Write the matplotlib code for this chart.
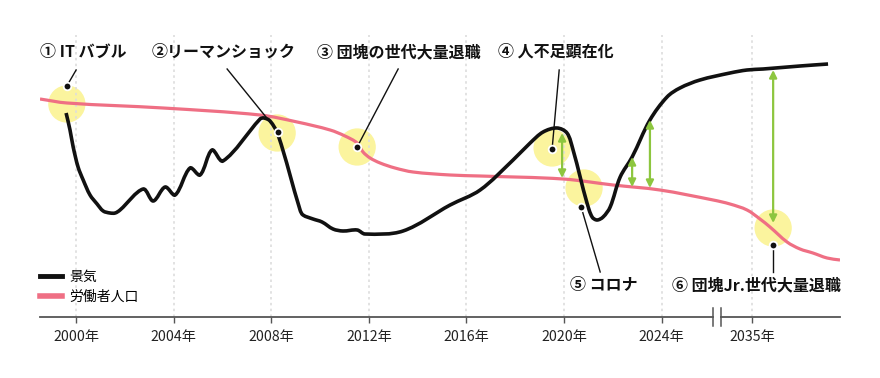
import numpy as np
import matplotlib
matplotlib.use("Agg")
import matplotlib.pyplot as plt
from matplotlib.lines import Line2D
from matplotlib.scale import FuncScale
from matplotlib.path import Path
from matplotlib.patches import PathPatch

plt.rcParams['font.family'] = ['Noto Sans CJK JP', 'DejaVu Sans']

# ---------------- data ----------------
econ_years = [1999.59, 1999.75, 1999.88, 2000.08, 2000.29, 2000.57, 2000.86, 2001.11, 2001.39, 2001.60,
              2001.80, 2002.75, 2003.16, 2003.65, 2004.06, 2004.67, 2005.08, 2005.57, 2006.02, 2007.54,
              2007.70, 2007.95, 2008.28, 2009.18, 2009.30, 2009.71, 2010.08, 2010.53, 2010.94, 2011.52,
              2011.84, 2013.40, 2015.33, 2016.56, 2017.91, 2018.61, 2019.14, 2019.71, 2020.12, 2020.37,
              2020.66, 2020.94, 2021.15, 2021.35, 2021.60, 2021.89, 2022.30, 2022.79, 2023.52, 2024.22,
              2024.75, 2025.57, 2029.41, 2033.76, 2035.46, 2036.97, 2038.12]
econ_values = [204, 187, 170, 150, 137, 122, 113, 106, 104, 104,
               107, 128, 116, 130, 122, 149, 142, 167, 156, 198,
               199, 196, 182, 107, 102, 98, 95, 88, 86, 87,
               83, 86, 112, 127, 157, 174, 185, 189, 184, 167,
               140, 114, 100, 97, 100, 110, 140, 160, 197, 220,
               229, 237, 244, 247, 248, 251, 253]

labor_years = [1998.52, 1999.63, 2003.57, 2007.54, 2009.06, 2010.41, 2011.02, 2011.52, 2011.76, 2012.05,
               2012.46, 2013.07, 2013.81, 2015.33, 2016.56, 2019.96, 2022.01, 2023.93, 2026.11, 2029.41,
               2033.76, 2035.33, 2035.74, 2036.44, 2036.97, 2037.50, 2038.08, 2038.61]
labor_values = [218, 214, 209, 202, 195, 187, 181, 174, 165, 159,
                154, 149, 145, 142, 141, 138, 132, 127, 117, 113,
                107, 98, 90, 75, 68, 64, 59, 57]

series_labels = ['景気', '労働者人口']

# events: highlight circle, dot, leader line, label
event_labels = ['① IT バブル', '②リーマンショック', '③ 団塊の世代大量退職', '④ 人不足顕在化',
                '⑤ コロナ', '⑥ 団塊Jr.世代大量退職']
circle_x = [1999.62, 2008.24, 2011.52, 2019.51, 2020.82, 2035.87]
circle_y = [213, 184, 170, 169, 129, 89]
dot_x = [1999.62, 2008.28, 2011.52, 2019.51, 2020.70, 2035.87]
dot_y = [231, 185, 170, 168, 110, 72]
leader_x = [2000.0, 2006.19, 2013.20, 2019.80, 2021.48, 2035.87]
leader_y = [247, 248, 248, 247, 45, 45]
label_x = [1998.52, 2003.11, 2009.88, 2017.30, 2020.25, 2024.43]
label_y = [265, 265, 265, 265, 32, 32]

# gap arrows
gap_x = [2019.92, 2022.79, 2023.52, 2035.87]
gap_top = [184, 160, 197, 247]
gap_bottom = [139, 130, 129, 94]

tick_years = [2000, 2004, 2008, 2012, 2016, 2020, 2024, 2035]
tick_labels = ['2000年', '2004年', '2008年', '2012年', '2016年', '2020年', '2024年', '2035年']

# ---------------- broken x scale ----------------
B0, Y1, P1 = 2026.3, 2035.0, 2027.7
K = (P1 - B0) / (Y1 - B0)


def fwd(x):
    x = np.asarray(x, dtype=float)
    return np.where(x <= B0, x, np.where(x < Y1, B0 + (x - B0) * K, x - (Y1 - P1)))


def inv(p):
    p = np.asarray(p, dtype=float)
    return np.where(p <= B0, p, np.where(p < P1, B0 + (p - B0) / K, p + (Y1 - P1)))


PX_PER_UNIT = 24.4  # aspect used only to shape the smooth rendering


def smooth_path(xs, ys):
    """Smooth rendering through the given points (cubic Bezier, chord-length tangents)."""
    P = np.column_stack([fwd(xs) * PX_PER_UNIT, np.asarray(ys, float)])
    n = len(P)
    d = np.linalg.norm(np.diff(P, axis=0), axis=1)
    m = np.zeros_like(P)
    m[0] = (P[1] - P[0]) / d[0]
    m[-1] = (P[-1] - P[-2]) / d[-1]
    for i in range(1, n - 1):
        m[i] = (P[i + 1] - P[i - 1]) / (d[i - 1] + d[i])
    verts = [P[0]]
    codes = [Path.MOVETO]
    for i in range(n - 1):
        verts += [P[i] + m[i] * d[i] / 3, P[i + 1] - m[i + 1] * d[i] / 3, P[i + 1]]
        codes += [Path.CURVE4] * 3
    V = np.array(verts)
    V[:, 0] = inv(V[:, 0] / PX_PER_UNIT)
    return Path(V, codes)


BLACK = '#111111'
PINK = '#ef6f84'
YELLOW = '#fbf49e'
GREEN = '#8dc63f'
AXIS = '#555555'

fig = plt.figure(figsize=(8.8, 3.78), dpi=100)
ax = fig.add_axes([40 / 880, 61 / 378, 800 / 880, 282 / 378])
ax.set_xscale(FuncScale(ax, (fwd, inv)))
ax.set_xlim(1998.52, 2038.61)
ax.set_ylim(0, 282)

for s in ax.spines.values():
    s.set_visible(False)
ax.set_yticks([])
ax.set_xticks(tick_years)
ax.set_xticklabels(tick_labels, fontsize=10.2, color='#222222')
ax.tick_params(axis='x', length=4, width=1.0, color=AXIS, pad=5)
ax.grid(axis='x', linestyle=(0, (1.5, 2)), color='#dddddd', linewidth=1.2, zorder=0)

# axis line with break
trans = ax.get_xaxis_transform()
brk_left, brk_right = 2026.11, 2027.11
ax.plot([1998.52, brk_left], [0, 0], transform=trans, color=AXIS, lw=1.3, clip_on=False, zorder=5)
ax.plot([brk_right, 2038.61], [0, 0], transform=trans, color=AXIS, lw=1.3, clip_on=False, zorder=5)
for bx in (brk_left, brk_right):
    ax.plot([bx, bx], [-0.033, 0.032], transform=trans, color=AXIS, lw=1.1, clip_on=False, zorder=5)

# highlight circles
ax.scatter(circle_x, circle_y, s=720, color=YELLOW, edgecolors='none', zorder=1)

# series (smooth rendering through the read points)
ax.add_patch(PathPatch(smooth_path(labor_years, labor_values), fill=False, edgecolor=PINK,
                       lw=2.3, capstyle='butt', joinstyle='round', zorder=3))
ax.add_patch(PathPatch(smooth_path(econ_years, econ_values), fill=False, edgecolor=BLACK,
                       lw=2.6, capstyle='butt', joinstyle='round', zorder=4))

# gap arrows
for gx, gt, gb in zip(gap_x, gap_top, gap_bottom):
    ax.annotate('', xy=(gx, gt), xytext=(gx, gb),
                arrowprops=dict(arrowstyle='<|-|>', color=GREEN, lw=1.6,
                                mutation_scale=11, shrinkA=0, shrinkB=0), zorder=6)

# leader lines, dots, labels
for lx, ly, dx, dy in zip(leader_x, leader_y, dot_x, dot_y):
    ax.plot([lx, dx], [ly, dy], color=BLACK, lw=1.0, zorder=7)
ax.plot(dot_x, dot_y, linestyle='none', marker='o', markersize=5.5, color=BLACK,
        markeredgecolor='white', markeredgewidth=1.3, zorder=8)
for t, tx, ty in zip(event_labels, label_x, label_y):
    ax.text(tx, ty, t, ha='left', va='center', fontsize=11.5, fontweight='bold',
            color='#111111', zorder=9)

# legend
handles = [Line2D([], [], color=BLACK, lw=3.5), Line2D([], [], color=PINK, lw=4)]
ax.legend(handles, series_labels, loc='upper left', bbox_to_anchor=(0, 0.168),
          frameon=False, borderaxespad=0, borderpad=0, handlelength=1.6,
          handletextpad=0.5, labelspacing=0.45, prop={'size': 10})

fig.savefig('out.png', dpi=100)
